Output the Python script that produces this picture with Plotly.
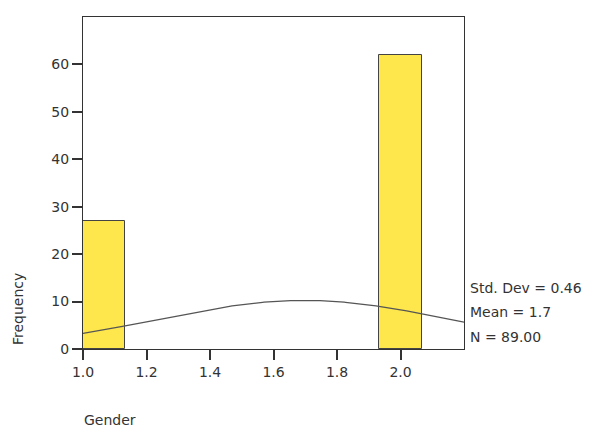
import numpy as np
import plotly.graph_objects as go

# Data
gender_values = [1, 2]
counts = [27, 62]
bin_starts = [1.0, 1.9333]
bin_width = 2 / 15
y_ticks = [0, 10, 20, 30, 40, 50, 60]
x_ticks = [1.0, 1.2, 1.4, 1.6, 1.8, 2.0]
stats_text = ["Std. Dev = 0.46", "Mean = 1.7", "N = 89.00"]

n = sum(counts)
mean = sum(v * c for v, c in zip(gender_values, counts)) / n
sd = np.sqrt(sum(c * (v - mean) ** 2 for v, c in zip(gender_values, counts)) / (n - 1))

FONT = "DejaVu Sans, sans-serif"
AX = "#333333"
FS = 14

fig = go.Figure()
fig.add_trace(go.Bar(
    x=[s + bin_width / 2 for s in bin_starts], y=counts, width=[bin_width] * len(counts),
    marker=dict(color="#FDE74C", line=dict(color="#444444", width=1)),
    hoverinfo="skip", showlegend=False,
))
xs = np.linspace(1.0, 2.2, 300)
ys = n * bin_width / (sd * np.sqrt(2 * np.pi)) * np.exp(-((xs - mean) ** 2) / (2 * sd ** 2))
fig.add_trace(go.Scatter(x=xs, y=ys, mode="lines", line=dict(color="#555555", width=1.2),
                         hoverinfo="skip", showlegend=False))

# page body has an 8px margin, so the figure is drawn 8px in from the top-left
fig.update_layout(
    width=583, height=422,
    margin=dict(l=74.5, r=126.5, t=8.5, b=80.5),
    paper_bgcolor="white", plot_bgcolor="white",
    font=dict(family=FONT, size=FS, color="#333333"),
    bargap=0,
    xaxis=dict(range=[1.0, 2.2], tickvals=x_ticks, ticktext=[f"{v:.1f}" for v in x_ticks],
               showgrid=False, zeroline=False, showline=True, linecolor=AX, linewidth=1,
               mirror=True, ticks="outside", ticklen=10, tickcolor=AX, tickwidth=1.5),
    yaxis=dict(range=[0, 70], tickvals=y_ticks, showgrid=False, zeroline=False,
               showline=True, linecolor=AX, linewidth=1, mirror=True,
               ticks="outside", ticklen=10, tickcolor=AX, tickwidth=1.5),
)

fig.add_annotation(text="Frequency", xref="paper", yref="paper", x=-0.171, y=0.12,
                   textangle=-90, showarrow=False, xanchor="center", yanchor="middle",
                   font=dict(size=FS))
fig.add_annotation(text="Gender", xref="paper", yref="paper", x=-0.003, y=-0.215,
                   showarrow=False, xanchor="left", yanchor="middle", font=dict(size=FS))
for i, t in enumerate(stats_text):
    fig.add_annotation(text=t, xref="paper", yref="paper", x=1.01, y=0.185 - i * 0.0737,
                       showarrow=False, xanchor="left", yanchor="middle", font=dict(size=FS))

fig.write_html("out.html")
